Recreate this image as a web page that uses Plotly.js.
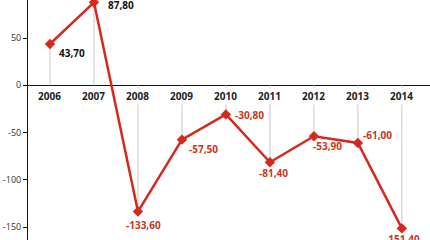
<!DOCTYPE html>
<html><head><meta charset="utf-8">
<script src="https://cdn.plot.ly/plotly-3.0.1.min.js"></script>
<style>html,body{margin:0;padding:0;background:#fff}#c{width:430px;height:240px}</style>
</head><body><div id="c"></div>
<script>
const years = ['2006','2007','2008','2009','2010','2011','2012','2013','2014'];
const values = [43.7, 87.8, -133.6, -57.5, -30.8, -81.4, -53.9, -61.0, -151.4];
const yTicks = [50, 0, -50, -100, -150];

// label placement styles: [xanchor, xshift, yshift]
const labelStyle = [
  ['left', 7, -9], ['left', 12, -3], ['center', 6, -13], ['left', 5, -9], ['left', 7, -1],
  ['center', 4, -11], ['left', -3, -10], ['left', 3, 8], ['center', 1, -11]
];
const red = '#d4291c';
const labelText = values.map(v => v.toFixed(2).replace('.', ','));
const labelColor = values.map(v => v >= 0 ? '#111' : '#c8361e');
const idx = years.map((_, i) => i);

const trace = {
  x: idx, y: values, type: 'scatter', mode: 'lines+markers',
  line: {color: red, width: 2.5},
  marker: {symbol: 'diamond', size: 8, color: red},
  error_y: {
    type: 'data', symmetric: false,
    array: values.map(v => v < 0 ? -v : 0),
    arrayminus: values.map(v => v > 0 ? v : 0),
    color: '#c8c8c8', thickness: 1, width: 0
  },
  cliponaxis: false, hoverinfo: 'none'
};

const yearAnn = years.map((y, i) => ({
  x: i, y: 0, xref: 'x', yref: 'y', text: '<b>' + y + '</b>', showarrow: false,
  yanchor: 'top', yshift: -2, bgcolor: '#fff',
  font: {family: 'Open Sans, sans-serif', size: 10, color: '#222'}
}));
const valAnn = values.map((v, i) => ({
  x: i, y: v, xref: 'x', yref: 'y', text: '<b>' + labelText[i] + '</b>', showarrow: false,
  xanchor: labelStyle[i][0], yanchor: 'middle', xshift: labelStyle[i][1], yshift: labelStyle[i][2],
  font: {family: 'Open Sans, sans-serif', size: 10, color: labelColor[i]}
}));

const layout = {
  width: 430, height: 240,
  margin: {l: 28, r: 0, t: 0, b: 0},
  paper_bgcolor: '#fff', plot_bgcolor: '#fff',
  showlegend: false,
  xaxis: {range: [-0.5, 8.64], showgrid: false, zeroline: false, showticklabels: false, showline: false, fixedrange: true},
  yaxis: {
    range: [-163.7, 90.3], tickvals: yTicks, ticktext: yTicks.map(String),
    showgrid: false, zeroline: true, zerolinecolor: '#111', zerolinewidth: 1.5,
    showline: true, linecolor: '#111', linewidth: 1,
    ticks: 'outside', ticklen: 4, tickcolor: '#111',
    tickfont: {family: 'Open Sans, sans-serif', size: 9, color: '#333'}
  },
  annotations: yearAnn.concat(valAnn)
};

Plotly.newPlot('c', [trace], layout, {staticPlot: true});
</script></body></html>
